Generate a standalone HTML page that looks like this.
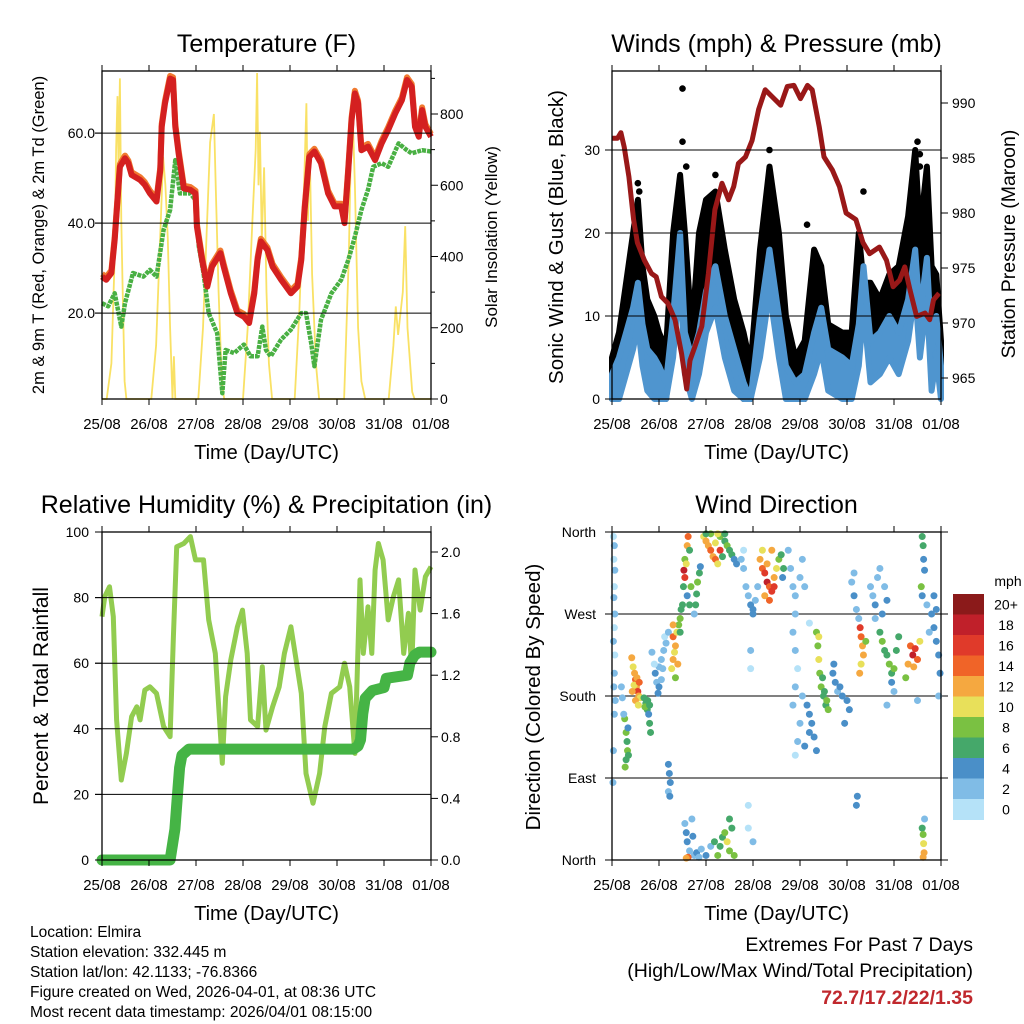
<!DOCTYPE html>
<html><head><meta charset="utf-8"><style>
html,body{margin:0;padding:0;background:#fff}
svg{display:block;font-family:"Liberation Sans",sans-serif}
</style></head><body>
<svg id="fig" width="1024" height="1024" viewBox="0 0 1024 1024" xmlns="http://www.w3.org/2000/svg">
<rect width="1024" height="1024" fill="#fff"/>
<g id="g1"></g>
<g id="g2"></g>
<g id="g3"></g>
<g id="g4"></g>
<g font-size="15.5" fill="#000">
<text x="30" y="937">Location: Elmira</text>
<text x="30" y="957">Station elevation: 332.445 m</text>
<text x="30" y="977">Station lat/lon: 42.1133; -76.8366</text>
<text x="30" y="997">Figure created on Wed, 2026-04-01, at 08:36 UTC</text>
<text x="30" y="1017">Most recent data timestamp: 2026/04/01 08:15:00</text>
</g>
<g font-size="19.5" text-anchor="end">
<text x="973" y="951">Extremes For Past 7 Days</text>
<text x="973" y="977">(High/Low/Max Wind/Total Precipitation)</text>
<text x="973" y="1004" font-weight="bold" fill="#c0282d">72.7/17.2/22/1.35</text>
</g>
</svg>
<script>
const dayLabels=["25/08","26/08","27/08","28/08","29/08","30/08","31/08","01/08"];
// Temperature
const tempT=[0,.09,.2,.27,.34,.38,.49,.56,.63,.81,.91,1.02,1.16,1.24,1.27,1.34,1.45,1.51,1.56,1.63,1.74,1.88,1.99,2.02,2.13,2.24,2.34,2.52,2.59,2.74,2.88,3.02,3.13,3.24,3.31,3.38,3.52,3.63,3.81,4.02,4.16,4.24,4.31,4.41,4.52,4.66,4.81,4.95,5.09,5.16,5.24,5.31,5.38,5.45,5.52,5.66,5.81,5.95,6.09,6.24,6.38,6.49,6.59,6.66,6.74,6.81,6.88,7.0];
const tempF=[28.1,27.4,28.9,36.3,46.6,52.5,54.4,53.3,50.7,49.6,48.5,46.6,44.8,51.8,61.4,66.6,72.1,71.8,61.4,55.5,47.7,47.4,46.6,39.2,31.8,25.9,30.3,33.3,30.3,24.4,20.0,19.2,17.8,24.4,31.8,35.9,34.0,30.3,27.4,24.4,25.9,31.8,42.9,54.7,55.9,53.3,46.6,43.7,43.7,40.0,51.8,62.9,68.8,66.6,56.2,57.0,54.0,57.7,60.7,64.4,67.3,71.8,70.3,61.4,59.2,65.1,61.4,59.2];
const dewT=[0,.13,.27,.41,.49,.66,.88,1.02,1.16,1.31,1.45,1.56,1.66,1.88,1.99,2.06,2.16,2.27,2.45,2.56,2.63,2.81,3.02,3.16,3.31,3.41,3.49,3.59,3.81,4.02,4.24,4.34,4.45,4.52,4.66,4.88,5.09,5.24,5.38,5.52,5.66,5.77,5.95,6.09,6.31,6.49,6.59,6.81,7.0];
const dewF=[22.2,21.5,24.4,17.0,22.2,28.9,28.1,29.6,28.1,38.5,42.9,54.0,46.6,46.6,45.1,34.8,28.9,20.0,15.5,2.2,11.8,11.1,13.0,10.4,10.4,17.0,11.8,10.4,14.1,16.3,20.0,20.0,13.3,8.2,18.5,24.4,27.4,31.8,37.0,42.9,47.4,52.5,53.3,52.5,57.7,56.2,55.5,56.2,55.9];
const solarT=[0,.1,.2,.27,.3,.33,.35,.38,.41,.44,.48,.52,1.05,1.15,1.25,1.3,1.35,1.4,1.45,1.5,1.53,1.56,2.05,2.15,2.25,2.3,2.38,2.42,2.48,2.55,2.6,3.0,3.1,3.2,3.27,3.3,3.33,3.36,3.4,3.45,3.5,3.55,3.62,4.1,4.2,4.3,4.35,4.38,4.42,4.47,4.55,4.62,5.15,5.25,5.32,5.38,5.45,5.52,5.6,6.1,6.2,6.25,6.3,6.4,6.45,6.5,6.6,6.65,7.0];
const solarW=[0,0,100,400,700,850,650,900,500,300,50,0,0,150,500,680,600,450,200,0,120,0,0,200,550,720,800,600,300,50,0,0,200,500,700,915,600,750,450,650,300,100,0,0,250,600,830,500,700,350,100,0,0,400,857,600,200,50,0,0,150,260,180,300,485,200,20,0,0];
// Winds
const windT=[0,.15,.3,.45,.55,.65,.75,.9,1.0,1.15,1.3,1.45,1.55,1.7,1.85,2.0,2.2,2.4,2.6,2.8,2.95,3.15,3.35,3.55,3.7,3.9,4.1,4.3,4.45,4.6,4.9,5.1,5.25,5.35,5.5,5.7,5.9,6.1,6.3,6.45,6.55,6.7,6.8,6.9,7.0];
const windMean=[3,5,8,11,14,9,6,5,4,2,10,20,8,5,8,13,16,10,6,2,0,10,18,10,4,2,3,8,11,6,5,4,9,16,7,8,10,8,12,18,10,17,6,10,4];
const windGust=[5,8,14,20,24,16,12,10,8,6,20,27,20,8,20,24,25,18,12,8,4,18,28,20,10,5,7,18,16,9,8,8,20,14,14,12,15,16,22,30,20,28,16,15,7];
const gustOutT=[1.5,1.5,1.58,.55,.58,2.2,3.35,4.15,5.35,6.5,6.55,6.55];
const gustOut=[37.4,31,28,26,25,27,30,21,25,31,28,29.5];
const presT=[0,.12,.19,.26,.36,.46,.54,.69,.84,.94,1.05,1.19,1.34,1.48,1.59,1.66,1.76,1.91,2.05,2.19,2.34,2.48,2.59,2.69,2.84,2.98,3.12,3.26,3.4,3.59,3.73,3.87,4.01,4.16,4.26,4.41,4.51,4.69,4.84,4.98,5.19,5.34,5.48,5.69,5.84,5.98,6.12,6.23,6.34,6.48,6.66,6.76,6.84,6.96];
const presMb=[986.8,986.8,987.3,986,983.3,979.4,977.3,975.7,974.5,974.2,972.4,971.8,970.3,967.2,964,966.6,967.8,969.7,974.5,980.3,982.7,981.2,982.4,984.5,985.1,986.6,989.4,991.2,990.6,989.8,991.5,991.6,990.4,991.6,991.2,987.8,985.1,983.9,982.4,980,979.4,977.3,976.3,976.9,975.7,973.3,973.9,975.1,973,970.6,970.9,970.3,972.1,972.7];
// Humidity & rain
const rhT=[0,.06,.16,.24,.31,.41,.52,.63,.74,.81,.91,1.02,1.16,1.31,1.45,1.52,1.59,1.74,1.88,1.99,2.16,2.27,2.41,2.56,2.63,2.74,2.88,2.99,3.09,3.16,3.31,3.41,3.49,3.63,3.77,3.88,4.02,4.13,4.24,4.34,4.49,4.63,4.74,4.88,5.06,5.16,5.27,5.38,5.49,5.56,5.66,5.74,5.81,5.88,5.98,6.09,6.2,6.31,6.42,6.52,6.59,6.66,6.77,6.88,7.0];
const rhPct=[74.2,80.3,83.3,74.2,42.7,24.4,32.5,43.7,46.7,42.7,51.8,52.8,50.8,40.7,37.6,68.1,95.5,96.5,98.6,91.5,91.5,73.2,63,29.5,49.8,61,71.1,76.2,63,42.7,40.7,58.9,39.6,46.7,52.8,63,71.1,61,50.8,26.4,17.3,26.4,40.7,50.8,52.8,60,52.8,32.5,85.4,63,77.2,63,88.4,96.5,91.5,73.2,80.3,85.4,63,75.2,58,88.4,76.2,86.4,89.4];
const rainT=[0,1.45,1.5,1.55,1.6,1.65,1.7,1.85,5.35,5.45,5.5,5.55,5.6,5.75,6.0,6.05,6.5,6.55,6.65,6.75,7.0];
const rainIn=[0,0,.1,.2,.4,.6,.68,.72,.72,.74,.78,.95,1.05,1.1,1.12,1.18,1.2,1.28,1.33,1.35,1.35];
// Wind direction [day, degrees, mph]
const windDirObs=[[0.03,355,1],[0.05,345,2],[0.04,330,1],[0.06,318,2],[0.05,300,1],[0.04,288,2],[0.06,270,2],[0.05,255,1],[0.03,240,2],[0.06,225,1],[0.05,205,2],[0.04,190,2],[0.07,175,3],[0.05,160,2],[0.03,120,2],[0.02,85,3],
[0.42,222,12],[0.45,212,10],[0.48,205,12],[0.5,198,14],[0.52,190,12],[0.55,185,16],[0.57,180,12],[0.47,192,10],[0.53,200,12],[0.58,195,14],[0.6,178,10],[0.43,185,12],[0.5,175,12],[0.56,170,10],
[0.68,178,6],[0.72,172,7],[0.75,165,6],[0.78,160,5],[0.8,150,7],[0.82,140,6],[0.7,168,8],[0.76,175,6],[0.8,170,6],
[0.27,155,8],[0.3,140,8],[0.32,130,7],[0.33,120,9],[0.3,110,7],[0.28,102,8],[0.35,115,6],[0.34,145,4],[0.25,160,3],[0.22,178,3],[0.2,190,2],
[0.92,205,4],[0.95,195,3],[1.0,190,4],[1.05,198,3],[0.98,183,4],[1.08,210,3],
[1.0,212,2],[1.05,220,2],[1.1,230,2],[1.15,238,2],[1.12,245,1],[1.2,250,2],[0.9,215,1],[0.85,228,2],
[1.27,210,10],[1.3,220,12],[1.33,228,11],[1.35,235,12],[1.3,245,14],[1.38,250,10],[1.4,215,12],[1.35,200,9],[1.42,258,8],[1.45,265,8],[1.47,275,7],[1.45,250,6],[1.3,258,12],
[1.2,105,4],[1.22,95,4],[1.24,85,4],[1.2,75,3],[1.23,70,4],
[1.5,280,6],[1.52,300,7],[1.55,310,16],[1.53,318,18],[1.55,330,8],[1.6,345,12],[1.62,355,14],[1.65,340,6],[1.58,325,10],[1.68,300,8],[1.6,290,4],[1.65,280,6],
[1.78,280,6],[1.8,292,7],[1.82,305,8],[1.86,315,6],[1.88,322,4],[1.75,270,3],
[1.55,40,3],[1.58,30,4],[1.6,20,4],[1.65,10,3],[1.7,45,2],[1.75,5,3],[1.62,3,14],[1.58,2,12],[1.8,8,4],[1.85,3,2],[1.9,12,2],[1.72,26,4],
[1.95,355,10],[2.0,350,12],[2.05,345,12],[2.1,340,14],[2.15,333,12],[2.2,330,14],[2.25,325,10],[2.3,340,16],[2.2,348,10],[2.1,358,8],[2.3,355,8],[2.4,350,6],[2.45,345,8],[2.5,340,6],[2.55,335,6],[2.6,330,4],[2.65,325,4],[2.25,358,10],[2.0,358,6],[2.4,358,7],[2.35,333,6],
[2.25,5,8],[2.3,15,6],[2.35,25,7],[2.4,30,8],[2.45,20,10],[2.5,10,8],[2.55,35,6],[2.6,5,8],[2.1,15,2],[2.0,5,4],[2.18,20,6],[2.5,45,7],
[2.75,330,2],[2.8,320,2],[2.85,300,2],[2.9,290,2],[2.95,280,4],[3.0,275,4],[3.05,285,2],[2.8,340,1],[3.1,300,2],[3.0,270,4],[2.95,230,2],[2.95,210,1],[2.9,60,1],[3.0,20,2],[2.9,35,1],
[3.15,330,12],[3.2,320,14],[3.25,315,16],[3.3,305,18],[3.35,300,14],[3.4,295,16],[3.45,310,12],[3.5,320,10],[3.55,330,8],[3.25,290,12],[3.35,285,14],[3.4,340,12],[3.45,300,16],[3.3,325,12],[3.2,340,10],
[3.6,335,6],[3.65,320,6],[3.63,310,5],
[3.75,340,2],[3.8,320,2],[3.85,300,2],[3.9,290,3],[4.0,310,2],[4.05,330,2],[4.1,300,2],[3.9,270,2],[4.2,260,1],[3.85,250,2],[3.9,230,2],[3.95,210,1],[3.9,190,2],[3.85,170,2],[4.0,150,2],[3.95,130,2],[3.9,115,1],[4.05,180,3],
[4.15,170,4],[4.2,160,4],[4.25,150,4],[4.3,135,4],[4.35,120,4],[4.2,140,5],[4.1,125,4],
[4.35,250,8],[4.38,235,9],[4.4,220,10],[4.42,205,8],[4.45,190,8],[4.5,180,7],[4.55,170,6],[4.6,165,8],[4.48,200,7],[4.52,185,6],[4.57,175,8],[4.4,245,10],
[4.7,205,4],[4.75,195,4],[4.8,185,3],[4.9,180,4],[5.0,175,4],[5.05,165,4],[4.95,150,5],[4.85,190,4],[4.72,215,4],
[5.1,305,3],[5.15,290,4],[5.2,275,3],[5.25,265,2],[5.15,315,2],[5.2,60,4],[5.22,70,4],
[5.28,255,16],[5.3,245,14],[5.33,235,12],[5.35,225,12],[5.3,215,10],[5.27,205,12],[5.4,240,8],
[5.5,300,3],[5.55,290,2],[5.6,280,4],[5.65,310,3],[5.7,320,2],[5.75,270,4],[5.8,300,2],[5.85,285,4],[5.6,265,2],
[5.7,250,7],[5.75,240,8],[5.8,230,6],[5.85,225,7],[5.9,215,8],[5.95,205,6],[6.0,210,8],[6.05,230,6],[6.1,245,7],[5.95,195,4],[6.0,185,3],[5.85,170,2],
[6.35,235,14],[6.4,225,18],[6.45,232,16],[6.5,220,14],[6.42,212,12],[6.55,240,10],[6.3,215,12],[6.25,200,8],
[6.6,290,4],[6.7,280,3],[6.8,270,4],[6.85,255,5],[6.9,240,4],[6.95,225,4],[6.98,205,4],[6.75,250,3],[6.85,290,4],[6.9,275,4],[6.95,180,3],[6.5,175,2],
[6.6,355,6],[6.62,345,6],[6.63,330,5],[6.65,318,4],[6.58,300,8],
[6.6,35,6],[6.62,28,8],[6.63,18,10],[6.64,8,12],[6.62,3,12],[6.65,45,2]];
const speedLabels=["20+","18","16","14","12","10","8","6","4","2","0"];
const speedColors=["#b5e2f8","#80bce6","#4a8fc8","#45a86a","#7ac142","#e8e05a","#f5a840","#f06428","#e03a2a","#c0202a","#8b1a1a"];

const NS="http://www.w3.org/2000/svg";
function mk(parent,tag,attrs,txt){const e=document.createElementNS(NS,tag);for(const k in attrs)e.setAttribute(k,attrs[k]);if(txt!==undefined)e.textContent=txt;parent.appendChild(e);return e;}
function lin(d0,d1,r0,r1){return v=>r0+(v-d0)/(d1-d0)*(r1-r0);}
function pts(xs,ys,fx,fy){return xs.map((x,i)=>fx(x).toFixed(1)+","+fy(ys[i]).toFixed(1)).join(" ");}

function frame(g,L,R,T,B,fx,title,xt){
  mk(g,"rect",{x:L,y:T,width:R-L,height:B-T,fill:"none",stroke:"#000","stroke-width":1.3});
  dayLabels.forEach((lab,i)=>{const x=fx(i);
    mk(g,"line",{x1:x,x2:x,y1:B,y2:B+6,stroke:"#000","stroke-width":1});
    mk(g,"line",{x1:x,x2:x,y1:T,y2:T-6,stroke:"#000","stroke-width":1});
    const t=mk(g,"text",{x:x,y:B+30,"font-size":15,"text-anchor":"middle"},lab);
    
    
  });
  const tt=mk(g,"text",{x:(L+R)/2,y:T-19,"font-size":25,"text-anchor":"middle"},title);
  
  
  const xa=mk(g,"text",{x:(L+R)/2,y:B+60,"font-size":20,"text-anchor":"middle"},xt);
  
  
}
function ytitle(g,x,y,txt,size,name){const t=mk(g,"text",{x:0,y:0,"font-size":size,"text-anchor":"middle",transform:`translate(${x},${y}) rotate(-90)`},txt);
  
  }
function yTicks(g,vals,fy,x,anchor,fmt,tickX1,tickX2,grid,L,R){
  vals.forEach(v=>{const y=fy(v);
    if(grid)mk(g,"line",{x1:L,x2:R,y1:y,y2:y,stroke:"#000","stroke-width":1});
    mk(g,"line",{x1:tickX1,x2:tickX2,y1:y,y2:y,stroke:"#000","stroke-width":1});
    const t=mk(g,"text",{x:x,y:y+5,"font-size":14,"text-anchor":anchor},fmt(v));
    
    
  });
}
// Panel 1
(function(){const g=document.getElementById("g1");const L=102,R=431,T=71,B=399;
 const fx=lin(0,7,L,R),fy=lin(0.9,73.8,B,T),fs=lin(0,800,B,114);
 const sl=mk(g,"polyline",{points:pts(solarT,solarW,fx,fs),fill:"none",stroke:"#f8dc4a","stroke-width":1.8,opacity:0.85});
 
 
 const dl=mk(g,"polyline",{points:pts(dewT,dewF,fx,fy),fill:"none",stroke:"#49b043","stroke-width":4.5,"stroke-dasharray":"4 1","stroke-linejoin":"round"});
 
 
 const ol=mk(g,"polyline",{points:pts(tempT,tempF.map(v=>v+0.6),fx,fy),fill:"none",stroke:"#f07a30","stroke-width":6,"stroke-linejoin":"round"});
 
 
 const rl=mk(g,"polyline",{points:pts(tempT,tempF,fx,fy),fill:"none",stroke:"#d42020","stroke-width":6,"stroke-linejoin":"round"});
 
 
 yTicks(g,[20,40,60],fy,95,"end",v=>v.toFixed(1),L-7,L,true,95,R);
 yTicks(g,[0,200,400,600,800],fs,440,"start",v=>String(v),R,R+7,false);
 [100,300,500,700,900].forEach(v=>mk(g,"line",{x1:R,x2:R+4,y1:fs(v),y2:fs(v),stroke:"#000"}));
 frame(g,L,R,T,B,fx,"Temperature (F)","Time (Day/UTC)");
 ytitle(g,44,235,"2m & 9m T (Red, Orange) & 2m Td (Green)",16.5,"left-y-axis-title");
 ytitle(g,497,237,"Solar Insolation (Yellow)",17,"right-y-axis-title");
})();
// Panel 2
(function(){const g=document.getElementById("g2");const L=612,R=941,T=71,B=399;
 const fx=lin(0,7,L,R),fy=lin(0,10,B,316),fp=lin(965,990,378,103);
 const band=pts(windT,windGust,fx,fy)+" "+pts(windT.slice().reverse(),windMean.slice().reverse().map(v=>Math.max(0,v-3)),fx,fy);
 const gb=mk(g,"polygon",{points:band,fill:"#000",stroke:"#000","stroke-width":6,"stroke-linejoin":"round"});
 
 
 gustOutT.forEach((t,i)=>{const c=mk(g,"circle",{cx:fx(t),cy:fy(gustOut[i]),r:3.3,fill:"#000"});
  
  });
 const wb=pts(windT,windMean,fx,fy)+" "+pts(windT.slice().reverse(),windMean.slice().reverse().map(v=>Math.max(0,v-5)),fx,fy);
 const wl=mk(g,"polygon",{points:wb,fill:"#4f95cf",stroke:"#4f95cf","stroke-width":6,"stroke-linejoin":"round"});
 
 
 const pl=mk(g,"polyline",{points:pts(presT,presMb,fx,fp),fill:"none",stroke:"#991818","stroke-width":5,"stroke-linejoin":"round"});
 
 
 yTicks(g,[0,10,20,30],fy,600,"end",v=>String(v),L-7,L,true,606,R);
 yTicks(g,[965,970,975,980,985,990],fp,952,"start",v=>String(v),R,R+7,false);
 frame(g,L,R,T,B,fx,"Winds (mph) & Pressure (mb)","Time (Day/UTC)");
 ytitle(g,563,237,"Sonic Wind & Gust (Blue, Black)",20.5,"left-y-axis-title");
 ytitle(g,1015,244,"Station Pressure (Maroon)",19.5,"right-y-axis-title");
})();
// Panel 3
(function(){const g=document.getElementById("g3");const L=102,R=431,T=532,B=860;
 const fx=lin(0,7,L,R),fy=lin(0,100,B,T),fr=lin(0,2,B,552);
 const hl=mk(g,"polyline",{points:pts(rhT,rhPct,fx,fy),fill:"none",stroke:"#92cc50","stroke-width":5,"stroke-linejoin":"round"});
 
 
 const rl=mk(g,"polyline",{points:pts(rainT,rainIn,fx,fr),fill:"none",stroke:"#45b445","stroke-width":11,"stroke-linejoin":"round","stroke-linecap":"round"});
 
 
 yTicks(g,[0,20,40,60,80,100],fy,89,"end",v=>String(v),L-7,L,false);
 [20,40,60,80].forEach(v=>mk(g,"line",{x1:95,x2:R,y1:fy(v),y2:fy(v),stroke:"#000"}));
 yTicks(g,[0,0.4,0.8,1.2,1.6,2.0],fr,441,"start",v=>v.toFixed(1),R,R+7,false);
 frame(g,L,R,T,B,fx,"Relative Humidity (%) & Precipitation (in)","Time (Day/UTC)");
 ytitle(g,48,696,"Percent & Total Rainfall",21,"left-y-axis-title");
})();
// Panel 4
(function(){const g=document.getElementById("g4");const L=612,R=941,T=532,B=860;
 const fx=lin(0,7,L,R),fy=lin(0,360,B,T);
 [90,180,270].forEach(v=>mk(g,"line",{x1:606,x2:948,y1:fy(v),y2:fy(v),stroke:"#000"}));
 windDirObs.forEach(o=>{const k=Math.min(10,Math.floor(o[2]/2));
  const c=mk(g,"circle",{cx:fx(o[0]),cy:fy(o[1]),r:3.5,fill:speedColors[k]});
  
  });
 const dl=["North","East","South","West","North"];
 [0,90,180,270,360].forEach((v,i)=>{const y=fy(v);mk(g,"line",{x1:L-7,x2:L,y1:y,y2:y,stroke:"#000"});
  const t=mk(g,"text",{x:596,y:y+5,"font-size":14,"text-anchor":"end"},dl[i]);
  
  });
 mk(g,"line",{x1:606,x2:948,y1:T,y2:T,stroke:"#000"});mk(g,"line",{x1:606,x2:948,y1:B,y2:B,stroke:"#000"});
 frame(g,L,R,T,B,fx,"Wind Direction","Time (Day/UTC)");
 ytitle(g,540,697,"Direction (Colored By Speed)",20.5,"left-y-axis-title");
 const cb=mk(g,"g",{});
 
 
 const h=20.5;
 speedLabels.forEach((lab,i)=>{const y=594+i*h;
  mk(cb,"rect",{x:953,y:y,width:31,height:h+0.5,fill:speedColors[10-i]});
  const t=mk(cb,"text",{x:1006,y:y+h/2+5,"font-size":14,"text-anchor":"middle"},lab);
  
  });
 const u=mk(cb,"text",{x:1008,y:586,"font-size":14,"text-anchor":"middle"},"mph");
 
 
})();
</script>
</body></html>
